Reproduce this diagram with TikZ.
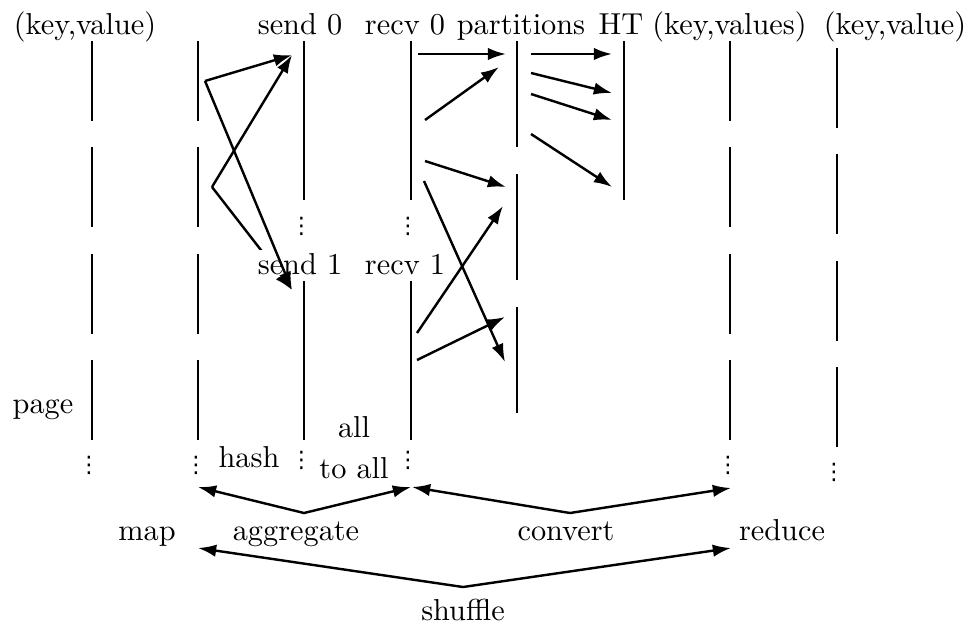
\documentclass[tikz,border=0pt]{standalone}
\usepackage{fontspec}
\usetikzlibrary{arrows.meta}
\newfontfamily\symfont{DejaVu Sans}
% vertical ellipsis marking continuation
\newcommand{\threedots}{{\symfont\fontsize{7.5pt}{9pt}\selectfont ⋮}}
\begin{document}
\begin{tikzpicture}[x=0.33pt,y=-0.33pt,
  lane/.style={line width=0.85pt},
  tip/.tip={Latex[length=6pt,width=4.1pt]},
  flow/.style={line width=0.8pt,-tip},
  twoway/.style={line width=0.8pt,tip-tip},
  lbl/.style={inner sep=0pt,anchor=base},
  dts/.style={inner sep=0pt}]
\useasboundingbox (0,0) rectangle (971,626);

% pages of (key,value) pairs
\foreach \x in {92,198,730}
  \foreach \t in {41,147.4,253.8,360.2}
    \draw[lane] (\x,\t) -- ++(0,79.8);
\foreach \t in {48,154.4,260.8,367.2}
  \draw[lane] (837,\t) -- ++(0,79.8);
% send / recv buffers
\foreach \x in {304,411}
  \foreach \t in {41,281}
    \draw[lane] (\x,\t) -- ++(0,159);
% partitions and hash table
\foreach \t in {41,174,307}
  \draw[lane] (517,\t) -- ++(0,106);
\draw[lane] (624,41) -- (624,200);

% column titles
\node[lbl] (kv1)   at (85,34.5)  {(key,value)};
\node[lbl] (snd0)  at (300,34.5) {send 0};
\node[lbl] (rcv0)  at (405,34.5) {recv 0};
\node[lbl] (parts) at (521,34.5) {partitions};
\node[lbl] (ht)    at (621,34.5) {HT};
\node[lbl] (kvs)   at (729.5,34.5) {(key,values)};
\node[lbl] (kv2)   at (895,34.5) {(key,value)};
\node[lbl] (rcv1)  at (405,274)  {recv 1};
\node[lbl] (page)  at (43,413)   {page};
\node[lbl] (hash)  at (249,467.5) {hash};
\node[lbl] (all1)  at (354,437)  {all};
\node[lbl] (all2)  at (354,478)  {to all};

% continuation dots
\node[dts] (d1)  at (89,465)  {\threedots};
\node[dts] (d2)  at (196,465) {\threedots};
\node[dts] (d3a) at (301.5,226) {\threedots};
\node[dts] (d4a) at (408,226) {\threedots};
\node[dts] (d3b) at (301.5,460) {\threedots};
\node[dts] (d4b) at (408,460) {\threedots};
\node[dts] (d7)  at (728,465) {\threedots};
\node[dts] (d8)  at (834,472) {\threedots};

% hashing pairs into send buffers
\coordinate (ha) at (205,81);
\coordinate (hb) at (212,187);
\coordinate (s0) at (292,55);
\coordinate (s1) at (292,290);
\draw[flow] (ha) -- (s0);
\draw[flow] (hb) -- (s0);
\draw[flow] (hb) -- (s1);
\node[lbl,inner sep=1pt,fill=white] (snd1) at (300,274) {send 1};
\draw[flow] (ha) -- (s1);

% received pairs into partitions
\coordinate (ra) at (418,54);   \coordinate (pa) at (506,54);
\coordinate (rb) at (425,120);  \coordinate (pb) at (499,67);
\coordinate (rc) at (425,161);  \coordinate (pc) at (506,187);
\coordinate (rd) at (424,181);  \coordinate (pd) at (505,362);
\coordinate (re) at (417,333);  \coordinate (pe) at (503,206);
\coordinate (rf) at (417,360);  \coordinate (pf) at (505,317);
\draw[flow] (ra) -- (pa);
\draw[flow] (rb) -- (pb);
\draw[flow] (rc) -- (pc);
\draw[flow] (rd) -- (pd);
\draw[flow] (re) -- (pe);
\draw[flow] (rf) -- (pf);

% partition entries into the hash table
\coordinate (qa) at (531,54);  \coordinate (ta) at (612,54);
\coordinate (qb) at (531,73);  \coordinate (tb) at (612,93);
\coordinate (qc) at (531,94);  \coordinate (tc) at (612,120);
\coordinate (qd) at (531,134); \coordinate (td) at (612,187);
\draw[flow] (qa) -- (ta);
\draw[flow] (qb) -- (tb);
\draw[flow] (qc) -- (tc);
\draw[flow] (qd) -- (td);

% phase brackets
\coordinate (aggL) at (198,487);
\coordinate (aggV) at (304,513);
\coordinate (aggR) at (411,487);
\coordinate (cnvL) at (412,487);
\coordinate (cnvV) at (570,513);
\coordinate (cnvR) at (731,488);
\coordinate (shfL) at (198,548);
\coordinate (shfV) at (463,587);
\coordinate (shfR) at (731,548);
\draw[twoway] (aggL) -- (aggV) -- (aggR);
\draw[twoway] (cnvL) -- (cnvV) -- (cnvR);
\draw[twoway] (shfL) -- (shfV) -- (shfR);

\node[lbl] (map) at (147,540) {map};
\node[lbl] (agg) at (296,540) {aggregate};
\node[lbl] (cnv) at (566,540) {convert};
\node[lbl] (red) at (782,540) {reduce};
\node[lbl] (shf) at (463,620) {shuffle};
\end{tikzpicture}
\end{document}
